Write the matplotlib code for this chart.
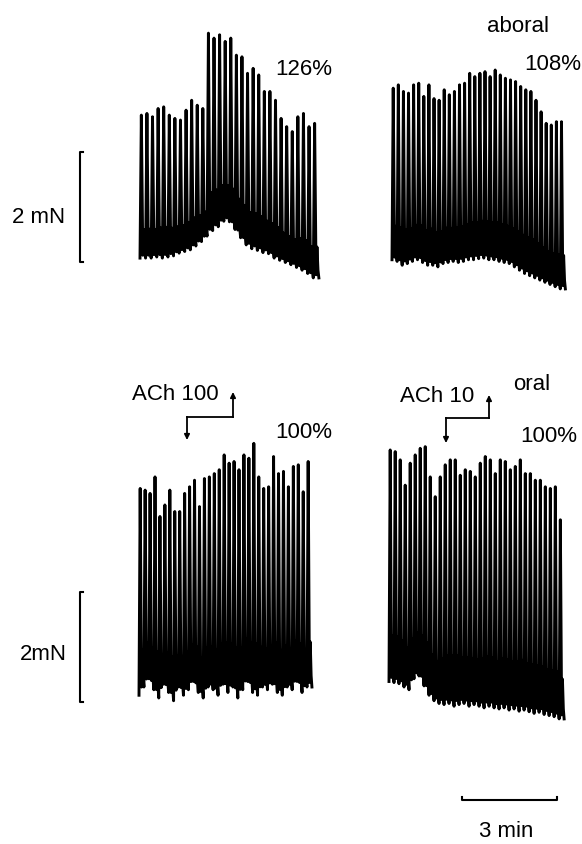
import numpy as np
import matplotlib.pyplot as plt

plt.rcParams['font.family'] = ['Liberation Sans', 'DejaVu Sans']

# peak and trough force of every contraction, mN above the lowest baseline
tl_peaks = [3.18, 3.21, 3.15, 3.30, 3.33, 3.18, 3.12, 3.09, 3.27, 3.45, 3.36, 3.30,
            4.67, 4.58, 4.64, 4.52, 4.58, 4.27, 4.24, 3.94, 4.03, 3.91, 3.61, 3.61,
            3.45, 3.12, 2.97, 2.88, 3.15, 3.21, 2.97, 3.03]
tl_troughs = [0.58, 0.58, 0.58, 0.60, 0.58, 0.60, 0.62, 0.67, 0.70, 0.73, 0.80, 0.88,
              0.98, 1.08, 1.15, 1.25, 1.24, 1.10, 0.95, 0.82, 0.75, 0.72, 0.68, 0.66,
              0.58, 0.54, 0.50, 0.46, 0.41, 0.36, 0.30, 0.22]

tr_peaks = [3.67, 3.73, 3.61, 3.58, 3.73, 3.76, 3.52, 3.73, 3.48, 3.45, 3.64, 3.55,
            3.61, 3.73, 3.76, 3.94, 3.88, 3.94, 3.97, 3.88, 4.00, 3.91, 3.85, 3.82,
            3.79, 3.70, 3.64, 3.61, 3.45, 3.24, 3.03, 3.00, 3.06, 3.06]
tr_troughs = [0.55, 0.52, 0.45, 0.48, 0.52, 0.55, 0.50, 0.45, 0.45, 0.42, 0.48, 0.50,
              0.52, 0.50, 0.52, 0.55, 0.55, 0.57, 0.58, 0.55, 0.55, 0.52, 0.50, 0.48,
              0.42, 0.36, 0.30, 0.26, 0.22, 0.18, 0.14, 0.10, 0.06, 0.02]

bl_peaks = [4.21, 4.18, 4.12, 4.42, 3.70, 3.91, 4.18, 3.79, 3.79, 4.12, 4.24, 4.36,
            3.88, 4.39, 4.42, 4.48, 4.55, 4.82, 4.67, 4.70, 4.55, 4.82, 4.76, 5.03,
            4.42, 4.21, 4.24, 4.79, 4.48, 4.52, 4.24, 4.61, 4.64, 4.15, 4.70]
bl_troughs = [0.45, 0.60, 0.75, 0.55, 0.40, 0.65, 0.50, 0.35, 0.60, 0.45, 0.55, 0.70,
              0.50, 0.40, 0.60, 0.55, 0.45, 0.65, 0.50, 0.60, 0.40, 0.55, 0.70, 0.50,
              0.45, 0.60, 0.55, 0.65, 0.50, 0.45, 0.60, 0.55, 0.70, 0.50, 0.60]

br_peaks = [4.91, 4.88, 4.73, 4.27, 4.67, 4.82, 4.94, 4.97, 4.42, 4.06, 4.42, 4.64,
            4.73, 4.73, 4.45, 4.55, 4.52, 4.42, 4.67, 4.79, 4.73, 4.48, 4.73, 4.70,
            4.55, 4.61, 4.73, 4.48, 4.48, 4.36, 4.36, 4.24, 4.21, 4.24, 3.64]
br_troughs = [0.70, 0.68, 0.66, 0.60, 0.55, 0.75, 0.80, 0.62, 0.45, 0.35, 0.30, 0.28,
              0.30, 0.25, 0.28, 0.30, 0.25, 0.28, 0.25, 0.22, 0.25, 0.22, 0.20, 0.22,
              0.18, 0.20, 0.16, 0.18, 0.15, 0.12, 0.14, 0.10, 0.08, 0.06, 0.02]

# interval between contractions, min
tl_period = 0.1765
tr_period = 0.161
bl_period = 0.156
br_period = 0.158

W, H = 582, 844
PX_MIN = 31.67   # 3 min = 95 px
PX_MN = 55.0     # 2 mN = 110 px

# shape of one contraction: fraction of the interval, fraction of the amplitude
# (fast twitch, then a small ripple on the baseline)
shape_t = [0.0, 0.24, 0.50, 0.66, 0.84]
shape_f = [0.0, 1.00, 0.02, 0.20, 0.05]


def build_trace(peaks, troughs, period):
    t, f = [], []
    for i, (p, b) in enumerate(zip(peaks, troughs)):
        b_next = troughs[i + 1] if i + 1 < len(troughs) else b
        for st, sf in zip(shape_t, shape_f):
            base = b + (b_next - b) * st
            t.append((i + st) * period)
            f.append(base + (p - base) * sf)
    t.append(len(peaks) * period)
    f.append(troughs[-1])
    return np.array(t), np.array(f)


def make_panel(fig, x0, y0):
    """axes whose time zero / force zero sits at pixel (x0, y0)"""
    left, right, top, bottom = x0 - 15, x0 + 200, y0 - 320, y0 + 15
    ax = fig.add_axes([left / W, 1 - bottom / H, (right - left) / W, (bottom - top) / H])
    ax.set_xlim(-15 / PX_MIN, 200 / PX_MIN)
    ax.set_ylim(-15 / PX_MN, 320 / PX_MN)
    ax.set_facecolor('none')
    ax.axis('off')
    return ax


def px_text(fig, x, y, s):
    fig.text(x / W, 1 - y / H, s, fontsize=16, ha='left', va='baseline')


fig = plt.figure(figsize=(W / 100, H / 100), dpi=100)

panels = [
    (140, 290, tl_peaks, tl_troughs, tl_period),
    (392, 290, tr_peaks, tr_troughs, tr_period),
    (139, 720, bl_peaks, bl_troughs, bl_period),
    (389, 720, br_peaks, br_troughs, br_period),
]
axes = []
for x0, y0, pk, tr, per in panels:
    ax = make_panel(fig, x0, y0)
    t, f = build_trace(pk, tr, per)
    ax.plot(t, f, color='black', lw=2.1, solid_joinstyle='round')
    axes.append(ax)

# 2 mN scale bars
tick = 3 / PX_MIN
for ax, x0, lo in [(axes[0], 140, 0.51), (axes[2], 139, 0.33)]:
    xb = (80 - x0) / PX_MIN
    ax.plot([xb + tick, xb, xb, xb + tick], [lo, lo, lo + 2, lo + 2],
            color='black', lw=1.5, clip_on=False)

# 3 min time bar
ax = axes[3]
xs = (462 - 389) / PX_MIN
yb = (720 - 800) / PX_MN
up = 3 / PX_MN
ax.plot([xs, xs, xs + 3, xs + 3], [yb + up, yb, yb, yb + up],
        color='black', lw=1.5, clip_on=False)

# ACh application marks (pixel layout)
overlay = fig.add_axes([0, 0, 1, 1])
overlay.set_xlim(0, W)
overlay.set_ylim(H, 0)
overlay.set_facecolor('none')
overlay.axis('off')
for xd, xu, yh, ybot, ytop in [(187, 233, 417, 440, 392), (446, 489, 418, 443, 395)]:
    overlay.plot([xd, xd], [yh, ybot - 5], color='black', lw=1.3)
    overlay.plot([xd, xu], [yh, yh], color='black', lw=1.3)
    overlay.plot([xu, xu], [yh, ytop + 5], color='black', lw=1.3)
    overlay.annotate('', xy=(xd, ybot), xytext=(xd, ybot - 6),
                     arrowprops=dict(arrowstyle='-|>', color='black', lw=1.2,
                                     mutation_scale=8, shrinkA=0, shrinkB=0))
    overlay.annotate('', xy=(xu, ytop), xytext=(xu, ytop + 6),
                     arrowprops=dict(arrowstyle='-|>', color='black', lw=1.2,
                                     mutation_scale=8, shrinkA=0, shrinkB=0))

px_text(fig, 275, 75, '126%')
px_text(fig, 487, 32, 'aboral')
px_text(fig, 524, 70, '108%')
px_text(fig, 12, 223, '2 mN')
px_text(fig, 132, 400, 'ACh 100')
px_text(fig, 275, 438, '100%')
px_text(fig, 513, 390, 'oral')
px_text(fig, 400, 402, 'ACh 10')
px_text(fig, 520, 442, '100%')
px_text(fig, 20, 660, '2mN')
px_text(fig, 479, 837, '3 min')

fig.savefig('out.png', dpi=100)
